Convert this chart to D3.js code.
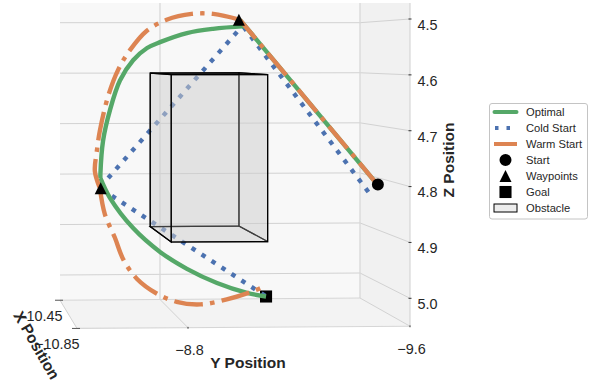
<!DOCTYPE html>
<html>
<head>
<meta charset="utf-8">
<script src="https://cdn.jsdelivr.net/npm/d3@7"></script>
<style>
    html, body {margin: 0; padding: 0; background: #fff;}
    svg {display: block;}
    text {font-family: "Liberation Sans", Arial, sans-serif; fill: #262626;}
</style>
</head>
<body>
<script>
// tick values
var xTicks = [-10.45, -10.85],
    yTicks = [-8.8, -9.6],
    zTicks = [4.5, 4.6, 4.7, 4.8, 4.9, 5.0];

// trajectories (null = next leg, the dashes restart there)
var pathDepth = -10.65;

var optimalY = [-9.573, -9.050, null, -9.071, -8.948, -8.849, -8.747, -8.698, -8.645, -8.595, -8.557, -8.531, -8.521, -8.521, null, -8.521, -8.557, -8.645, -8.747, -8.849, -8.963, -9.077, -9.149],
    optimalZ = [4.810, 4.498, null, 4.510, 4.515, 4.523, 4.540, 4.551, 4.574, 4.612, 4.668, 4.725, 4.787, 4.795, null, 4.795, 4.832, 4.889, 4.934, 4.966, 4.993, 5.012, 5.019];

var coldY = [-9.537, -9.062, null, -9.069, -8.527, null, -8.527, -9.149],
    coldZ = [4.823, 4.510, null, 4.504, 4.808, null, 4.816, 5.019];

var warmY = [-9.573, -9.050, null, -9.050, -8.949, -8.867, -8.772, -8.696, -8.633, -8.589, -8.551, -8.519, -8.507, -8.500, -8.519, null, -8.519, -8.538, -8.576, -8.608, -8.659, -8.734, -8.810, -8.899, -9.000, -9.088, -9.134],
    warmZ = [4.810, 4.498, null, 4.498, 4.487, 4.487, 4.498, 4.519, 4.555, 4.591, 4.640, 4.706, 4.746, 4.782, 4.814, null, 4.814, 4.863, 4.907, 4.948, 4.984, 5.012, 5.028, 5.033, 5.024, 5.011, 5.002];

var startPoint = [-9.573, 4.809],
    waypointsY = [-9.046, -8.522],
    waypointsZ = [4.498, 4.814],
    goalPoint = [-9.149, 5.019];

// obstacle extents
var obstacleX = [-10.45, -10.762],
    obstacleY = [-8.761, -9.116],
    obstacleZ = [4.6, 4.905];

var legendLabels = ["Optimal", "Cold Start", "Warm Start", "Start", "Waypoints", "Goal", "Obstacle"];

var colors = {optimal: "#55a868", cold: "#4c72b0", warm: "#dd8452"};

// the picture's box: back plane and front plane of the 3d view
var xDomain = [-10.45, -10.85],
    yDomain = [-8.4, -9.6],
    zDomain = [4.45, 5.05];

var depth = d3.scaleLinear().domain(xDomain).range([0, 1]),
    across = d3.scaleLinear().domain(yDomain).range([0, 1]),
    backY = d3.scaleLinear().domain(yDomain).range([60, 360]),
    frontY = d3.scaleLinear().domain(yDomain).range([77, 410]),
    backZ = d3.scaleLinear().domain([4.5, 5]).range([22.7, 274]),
    frontZ = d3.scaleLinear().domain([4.5, 5]).range([19, 299.3]);

function project(x, y, z) {
    var t = depth(x),
        tilt = (z - 4.5) * 4 * (across(y) - 0.5);
    return [
        backY(y) + (frontY(y) - backY(y)) * t,
        backZ(z) + (frontZ(z) - backZ(z)) * t - tilt
    ];
}

var svg = d3.select("body").append("svg")
    .attr("width", 608)
    .attr("height", 388);

svg.append("clipPath").attr("id", "top-clip")
    .append("rect").attr("x", 0).attr("y", 3).attr("width", 608).attr("height", 385);

var chart = svg.append("g").attr("clip-path", "url(#top-clip)");

var polyline = d3.line();

function face(points, fill) {
    return chart.append("path")
        .attr("d", polyline(points) + "Z")
        .attr("fill", fill)
        .attr("stroke", "none");
}

function segment(a, b, stroke, width) {
    return chart.append("path")
        .attr("d", polyline([a, b]))
        .attr("fill", "none")
        .attr("stroke", stroke)
        .attr("stroke-width", width);
}

// panes
var x0 = xDomain[0], x1 = xDomain[1],
    y0 = yDomain[0], y1 = yDomain[1],
    z0 = zDomain[0], z1 = zDomain[1];

face([project(x0, y0, z0), project(x0, y1, z0), project(x0, y1, z1), project(x0, y0, z1)], "#f8f8f8");
face([project(x0, y1, z0), project(x1, y1, z0), project(x1, y1, z1), project(x0, y1, z1)], "#f1f1f1");
face([project(x0, y0, z1), project(x0, y1, z1), project(x1, y1, z1), project(x1, y0, z1)], "#f3f3f3");

// grid
zTicks.forEach(function (z) {
    segment(project(x0, y0, z), project(x0, y1, z), "#d2d2d2", 1);
    segment(project(x0, y1, z), project(x1, y1, z), "#d2d2d2", 1);
});
yTicks.forEach(function (y) {
    segment(project(x0, y, z0), project(x0, y, z1), "#d8d8d8", 1.3);
    segment(project(x0, y, z1), project(x1, y, z1), "#d2d2d2", 1);
});
segment(project(x0, y0, z1), project(x0, y1, z1), "#d6d6d6", 1);
segment(project(x1, y0, z1), project(x1, y1, z1), "#d6d6d6", 1.2);
segment(project(x0, y0, z1), project(x1, y0, z1), "#d2d2d2", 1);
segment(project(x1, y1, z0), project(x1, y1, z1), "#cfcfcf", 1);

// ticks
zTicks.forEach(function (z) {
    var p = project(x1, y1, z);
    segment([p[0] - 1.5, p[1]], [p[0] + 1.5, p[1]], "#333", 1);
    chart.append("text")
        .attr("x", p[0] + 7.5)
        .attr("y", p[1] + 10.8)
        .attr("font-size", 14.4)
        .text(z.toFixed(1));
});
yTicks.forEach(function (y, i) {
    var p = project(x1, y, z1);
    segment([p[0], p[1] - 0.8], [p[0], p[1] + 1], "#333", 1);
    chart.append("text")
        .attr("x", p[0] + 1.5)
        .attr("y", p[1] + 27.5)
        .attr("text-anchor", "middle")
        .attr("font-size", 14.4)
        .text("\u2212" + Math.abs(y).toFixed(1));
});
xTicks.forEach(function (x) {
    var p = project(x, y0, z1);
    segment([p[0] - 5, p[1]], [p[0] + 3, p[1]], "#555", 1);
    chart.append("text")
        .attr("x", p[0] + 2.5)
        .attr("y", p[1] + 20.5)
        .attr("text-anchor", "end")
        .attr("font-size", 14.4)
        .text("\u2212" + Math.abs(x).toFixed(2));
});

// axis titles
svg.append("text")
    .attr("x", 248).attr("y", 368)
    .attr("text-anchor", "middle")
    .attr("font-size", 15.5).attr("font-weight", "bold")
    .text("Y Position");
svg.append("text")
    .attr("transform", "translate(454,160) rotate(-90)")
    .attr("text-anchor", "middle")
    .attr("font-size", 15.5).attr("font-weight", "bold")
    .text("Z Position");
svg.append("text")
    .attr("transform", "translate(32,348) rotate(60)")
    .attr("text-anchor", "middle")
    .attr("font-size", 15.5).attr("font-weight", "bold")
    .text("X Position");

// marks
var curve = d3.line()
    .defined(function (d) { return d !== null; })
    .x(function (d) { return d[0]; })
    .y(function (d) { return d[1]; })
    .curve(d3.curveCatmullRom.alpha(0.5));

function route(ys, zs) {
    return ys.map(function (y, i) {
        return y === null ? null : project(pathDepth, y, zs[i]);
    });
}

var midTriangle = {
    draw: function (context, size) {
        var w = Math.sqrt(size), h = w;
        context.moveTo(0, -h / 2);
        context.lineTo(w / 2, h / 2);
        context.lineTo(-w / 2, h / 2);
        context.closePath();
    }
};

function marker(type, size, p) {
    return chart.append("path")
        .attr("d", d3.symbol().type(type).size(size)())
        .attr("transform", "translate(" + p[0] + "," + p[1] + ")")
        .attr("fill", "#000");
}

marker(d3.symbolSquare, 146, project(pathDepth, goalPoint[0], goalPoint[1]));

chart.append("path")
    .attr("d", curve(route(coldY, coldZ)))
    .attr("fill", "none")
    .attr("stroke", colors.cold)
    .attr("stroke-width", 4.4)
    .attr("stroke-dasharray", "4.5,7.4");

// obstacle: back faces first so their edges fade under the front ones
function corner(i, j, k) {
    return project(obstacleX[i], obstacleY[j], obstacleZ[k]);
}

[
    [corner(0, 0, 0), corner(0, 1, 0), corner(0, 1, 1), corner(0, 0, 1)],
    [corner(0, 0, 1), corner(0, 1, 1), corner(1, 1, 1), corner(1, 0, 1)],
    [corner(0, 0, 0), corner(0, 1, 0), corner(1, 1, 0), corner(1, 0, 0)],
    [corner(0, 1, 0), corner(1, 1, 0), corner(1, 1, 1), corner(0, 1, 1)],
    [corner(0, 0, 0), corner(1, 0, 0), corner(1, 0, 1), corner(0, 0, 1)],
    [corner(1, 0, 0), corner(1, 1, 0), corner(1, 1, 1), corner(1, 0, 1)]
].forEach(function (points) {
    chart.append("path")
        .attr("d", polyline(points) + "Z")
        .attr("fill", "#cecece")
        .attr("fill-opacity", 0.3)
        .attr("stroke", "#000")
        .attr("stroke-width", 1.2)
        .attr("stroke-linejoin", "miter");
});

chart.append("path")
    .attr("d", curve(route(optimalY, optimalZ)))
    .attr("fill", "none")
    .attr("stroke", colors.optimal)
    .attr("stroke-width", 4.4);

chart.append("path")
    .attr("d", curve(route(warmY, warmZ)))
    .attr("fill", "none")
    .attr("stroke", colors.warm)
    .attr("stroke-width", 4.4)
    .attr("stroke-dasharray", "28.8,7.2,4.5,7.2");

marker(d3.symbolCircle, 113, project(pathDepth, startPoint[0], startPoint[1]));
waypointsY.forEach(function (y, i) {
    marker(midTriangle, 144, project(pathDepth, y, waypointsZ[i]));
});

// legend
var legend = svg.append("g");

legend.append("rect")
    .attr("x", 489.5).attr("y", 103.5)
    .attr("width", 98).attr("height", 115.5)
    .attr("rx", 2.5)
    .attr("fill", "#fff")
    .attr("stroke", "#c4c4c4")
    .attr("stroke-width", 1);

var row = d3.scalePoint().domain(legendLabels).range([112, 208]);

legend.selectAll("text.entry")
    .data(legendLabels)
    .enter().append("text")
    .attr("class", "entry")
    .attr("x", 526)
    .attr("y", function (d) { return row(d) + 4; })
    .attr("font-size", 11.2)
    .text(function (d) { return d; });

function legendLine(label, stroke, dash, cap, a, b) {
    legend.append("line")
        .attr("x1", a).attr("x2", b)
        .attr("y1", row(label)).attr("y2", row(label))
        .attr("stroke", stroke)
        .attr("stroke-width", 4)
        .attr("stroke-dasharray", dash)
        .attr("stroke-linecap", cap);
}

legendLine("Optimal", colors.optimal, null, "round", 494.5, 516.5);
legendLine("Cold Start", colors.cold, "3.5,8", "butt", 495, 517);
legendLine("Warm Start", colors.warm, null, "butt", 494, 517);

function legendMarker(label, type, size) {
    legend.append("path")
        .attr("d", d3.symbol().type(type).size(size)())
        .attr("transform", "translate(505.5," + row(label) + ")")
        .attr("fill", "#000");
}

legendMarker("Start", d3.symbolCircle, 113);
legendMarker("Waypoints", midTriangle, 144);
legendMarker("Goal", d3.symbolSquare, 146);

legend.append("rect")
    .attr("x", 494).attr("y", row("Obstacle") - 4)
    .attr("width", 23).attr("height", 8)
    .attr("fill", "#ededed")
    .attr("stroke", "#000")
    .attr("stroke-width", 1);
</script>
</body>
</html>
